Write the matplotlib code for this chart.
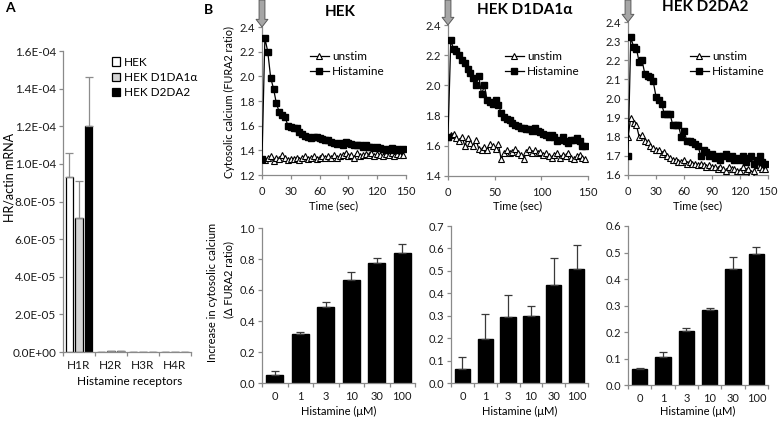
import matplotlib
matplotlib.use("Agg")
import matplotlib.pyplot as plt
from matplotlib.patches import Patch
from matplotlib.ticker import FuncFormatter, FixedLocator
import numpy as np

plt.rcParams['font.family'] = ['Lato', 'DejaVu Sans']
plt.rcParams['font.size'] = 8

# ---------------------------------------------------------------- data
# panel A: receptor mRNA
receptors = ['H1R', 'H2R', 'H3R', 'H4R']
mrna_hek = [9.3e-5, 2e-7, 0, 0]
mrna_d1 = [7.1e-5, 3e-7, 0, 0]
mrna_d2 = [1.2e-4, 6e-7, 0, 0]
mrna_err_hek = [1.3e-5, 0, 0, 0]
mrna_err_d1 = [2.0e-5, 0, 0, 0]
mrna_err_d2 = [2.6e-5, 0, 0, 0]
cell_lines = ['HEK', 'HEK D1DA1\u03b1', 'HEK D2DA2']

# panel B top: calcium traces, sampled every 3 s
time_s = np.arange(0, 150, 3)
hek_unstim = [1.33, 1.32, 1.34, 1.35, 1.31, 1.34, 1.33, 1.36, 1.34, 1.32,
              1.33, 1.33, 1.34, 1.32, 1.34, 1.35, 1.33, 1.34, 1.35, 1.33,
              1.34, 1.35, 1.34, 1.35, 1.34, 1.36, 1.34, 1.35, 1.36, 1.38,
              1.35, 1.36, 1.34, 1.38, 1.35, 1.36, 1.37, 1.36, 1.38, 1.35,
              1.37, 1.36, 1.35, 1.37, 1.36, 1.38, 1.35, 1.37, 1.36, 1.36]
hek_hist = [1.33, 2.31, 2.20, 1.99, 1.90, 1.78, 1.71, 1.69, 1.67, 1.60,
            1.59, 1.58, 1.58, 1.55, 1.53, 1.52, 1.51, 1.50, 1.51, 1.51,
            1.50, 1.49, 1.48, 1.48, 1.47, 1.46, 1.45, 1.46, 1.44, 1.47,
            1.46, 1.45, 1.44, 1.44, 1.44, 1.43, 1.44, 1.43, 1.43, 1.42,
            1.43, 1.42, 1.41, 1.40, 1.41, 1.42, 1.40, 1.41, 1.40, 1.41]
d1_unstim = [1.66, 1.67, 1.68, 1.65, 1.63, 1.66, 1.60, 1.65, 1.62, 1.60,
             1.64, 1.58, 1.57, 1.59, 1.57, 1.61, 1.60, 1.58, 1.61, 1.51,
             1.55, 1.57, 1.55, 1.56, 1.58, 1.55, 1.54, 1.51, 1.56, 1.58,
             1.55, 1.57, 1.55, 1.56, 1.54, 1.55, 1.53, 1.52, 1.54, 1.55,
             1.52, 1.54, 1.53, 1.55, 1.52, 1.51, 1.53, 1.54, 1.52, 1.51]
d1_hist = [1.66, 2.30, 2.24, 2.23, 2.20, 2.17, 2.15, 2.11, 2.08, 2.05,
           2.00, 2.06, 1.94, 2.00, 1.90, 1.89, 1.88, 1.90, 1.87, 1.82,
           1.79, 1.78, 1.77, 1.75, 1.74, 1.73, 1.72, 1.72, 1.71, 1.71,
           1.70, 1.72, 1.70, 1.69, 1.68, 1.67, 1.66, 1.67, 1.66, 1.63,
           1.64, 1.66, 1.63, 1.62, 1.64, 1.64, 1.65, 1.63, 1.60, 1.60]
d2_unstim = [1.80, 1.90, 1.87, 1.86, 1.80, 1.81, 1.78, 1.77, 1.75, 1.74,
             1.73, 1.73, 1.71, 1.72, 1.70, 1.69, 1.68, 1.68, 1.67, 1.67,
             1.68, 1.66, 1.67, 1.66, 1.66, 1.65, 1.66, 1.65, 1.64, 1.65,
             1.64, 1.64, 1.63, 1.64, 1.63, 1.62, 1.64, 1.63, 1.63, 1.62,
             1.62, 1.64, 1.62, 1.63, 1.61, 1.62, 1.65, 1.64, 1.63, 1.63]
d2_hist = [1.70, 2.32, 2.27, 2.26, 2.19, 2.20, 2.13, 2.12, 2.11, 2.09,
           2.01, 1.99, 1.97, 1.92, 1.92, 1.92, 1.86, 1.86, 1.86, 1.80,
           1.83, 1.78, 1.78, 1.77, 1.76, 1.75, 1.70, 1.73, 1.72, 1.70,
           1.71, 1.69, 1.70, 1.68, 1.70, 1.71, 1.69, 1.70, 1.68, 1.69,
           1.68, 1.70, 1.67, 1.69, 1.70, 1.66, 1.68, 1.70, 1.67, 1.66]

# panel B bottom: dose response
concs = ['0', '1', '3', '10', '30', '100']
hek_resp = [0.054, 0.315, 0.492, 0.665, 0.772, 0.841]
hek_resp_err = [0.022, 0.011, 0.031, 0.054, 0.032, 0.059]
d1_resp = [0.062, 0.197, 0.296, 0.299, 0.437, 0.510]
d1_resp_err = [0.052, 0.111, 0.096, 0.046, 0.121, 0.104]
d2_resp = [0.060, 0.107, 0.204, 0.283, 0.436, 0.493]
d2_resp_err = [0.005, 0.016, 0.012, 0.009, 0.048, 0.027]

# ---------------------------------------------------------------- layout
W, H = 778, 423
AX_GRAY = '#8a8a8a'
fig = plt.figure(figsize=(W / 100, H / 100), dpi=100)


def box(left, right, top, bottom):
    """pixel box -> figure fraction rect"""
    return [left / W, 1 - bottom / H, (right - left) / W, (bottom - top) / H]


def style(ax, size=8):
    for s in ('top', 'right'):
        ax.spines[s].set_visible(False)
    for s in ('left', 'bottom'):
        ax.spines[s].set_color(AX_GRAY)
        ax.spines[s].set_linewidth(0.9)
    ax.tick_params(which='both', colors=AX_GRAY, labelcolor='#1a1a1a',
                   length=3, width=0.9, labelsize=size, pad=2)


def category_ticks(ax, labels):
    n = len(labels)
    ax.set_xlim(-0.5, n - 0.5)
    ax.set_xticks(range(n))
    ax.set_xticklabels(labels)
    ax.xaxis.set_minor_locator(FixedLocator(np.arange(-0.5, n, 1.0)))
    ax.tick_params(axis='x', which='major', length=0, pad=6)


# ---------------------------------------------------------------- panel A
axA = fig.add_axes(box(63, 191, 51, 352))
style(axA, size=8.5)
x = np.arange(len(receptors))
bw = 0.24
zeros = np.zeros(len(receptors))
ekw = dict(ecolor='#8c8c8c', elinewidth=0.9, capsize=3, capthick=0.9)
for off, vals, err, fc in ((-0.3, mrna_hek, mrna_err_hek, 'white'),
                           (0.0, mrna_d1, mrna_err_d1, '#d4d4d4'),
                           (0.3, mrna_d2, mrna_err_d2, 'black')):
    axA.bar(x + off, vals, width=bw, color=fc, edgecolor='black', linewidth=0.9,
            yerr=[zeros, err], error_kw=ekw, zorder=2)
category_ticks(axA, receptors)
axA.set_ylim(0, 1.6e-4)
axA.set_yticks(np.arange(0, 1.61e-4, 2e-5))
axA.yaxis.set_major_formatter(FuncFormatter(lambda v, p: f"{v:.1E}"))
fig.text(10 / W, 1 - 177 / H, 'HR/actin mRNA', rotation=90,
         ha='center', va='center', fontsize=9)
fig.text(130 / W, 1 - 381 / H, 'Histamine receptors', ha='center',
         va='center', fontsize=8.5)
handles = [Patch(facecolor=c, edgecolor='black', linewidth=0.9)
           for c in ('white', '#d4d4d4', 'black')]
fig.legend(handles, cell_lines, loc='upper left',
           bbox_to_anchor=(107 / W, 1 - 52 / H), frameon=False,
           fontsize=8.5, handlelength=0.7, handleheight=0.7,
           handletextpad=0.3, labelspacing=0.35, borderaxespad=0)

fig.text(5 / W, 1 - 8 / H, 'A', fontsize=10, fontweight='bold', va='center')
fig.text(204 / W, 1 - 10 / H, 'B', fontsize=10, fontweight='bold', va='center')

# ---------------------------------------------------------------- panel B top
traces = [
    ('HEK', box(262, 406, 27, 175), (1.2, 2.4), np.arange(1.2, 2.41, 0.2),
     [0, 30, 60, 90, 120, 150], hek_unstim, hek_hist, 305, 333),
    ('HEK D1DA1\u03b1', box(448, 588, 25, 176), (1.4, 2.4),
     np.arange(1.4, 2.41, 0.2), [0, 50, 100, 150], d1_unstim, d1_hist, 500, 518),
    ('HEK D2DA2', box(628, 768, 22, 175), (1.6, 2.4),
     np.arange(1.6, 2.41, 0.1), [0, 30, 60, 90, 120, 150], d2_unstim, d2_hist,
     685, 698),
]
for title, rect, ylim, yt, xt, unstim, hist, leg_x, cx in traces:
    ax = fig.add_axes(rect)
    style(ax)
    ax.plot(time_s, unstim, color='black', lw=0.9, marker='^', ms=4.8,
            mfc='white', mec='black', mew=0.8, label='unstim', zorder=3)
    ax.plot(time_s, hist, color='black', lw=0.9, marker='s', ms=4.4,
            mfc='black', mec='black', label='Histamine', zorder=4)
    ax.set_xlim(0, 150)
    ax.set_ylim(*ylim)
    ax.set_xticks(xt)
    ax.set_yticks(yt)
    ax.yaxis.set_major_formatter(FuncFormatter(lambda v, p: f"{v:.1f}"))
    ax.tick_params(axis='x', pad=5)
    ax.set_title(title, fontsize=11, fontweight='bold', pad=8,
                 x=(cx - rect[0] * W) / (rect[2] * W) + 0.05)
    ax.legend(loc='upper left', bbox_to_anchor=(leg_x / W, 1 - 46 / H),
              bbox_transform=fig.transFigure, frameon=False, fontsize=8.5,
              handlelength=1.6, handletextpad=0.3, labelspacing=0.4,
              borderaxespad=0)
    # stimulation arrow
    ax.annotate('', xy=(0, ylim[1]), xycoords='data',
                xytext=(0, 1.0), textcoords=('data', 'figure fraction'),
                arrowprops=dict(arrowstyle='simple,head_length=0.55,'
                                'head_width=0.85,tail_width=0.42',
                                fc='#a6a6a6', ec='#5a5a5a', lw=0.7,
                                mutation_scale=10, shrinkA=0, shrinkB=0),
                annotation_clip=False)
    fig.text((rect[0] + rect[2] / 2), 1 - 206 / H, 'Time (sec)',
             ha='center', va='center', fontsize=8)

fig.text(229 / W, 1 - 102 / H, 'Cytosolic calcium (FURA2 ratio)',
         rotation=90, ha='center', va='center', fontsize=7.8)

# ---------------------------------------------------------------- panel B bottom
doses = [
    (box(262, 415, 228, 383), (0, 1.0), np.arange(0, 1.01, 0.2),
     hek_resp, hek_resp_err),
    (box(451, 588, 226, 383), (0, 0.7), np.arange(0, 0.71, 0.1),
     d1_resp, d1_resp_err),
    (box(628, 768, 226, 385), (0, 0.6), np.arange(0, 0.61, 0.1),
     d2_resp, d2_resp_err),
]
for rect, ylim, yt, resp, err in doses:
    ax = fig.add_axes(rect)
    style(ax)
    xs = np.arange(len(concs))
    ax.bar(xs, resp, width=0.67, color='black', edgecolor='black',
           yerr=[np.zeros(len(resp)), err],
           error_kw=dict(ecolor='#3a3a3a', elinewidth=0.9, capsize=3,
                         capthick=0.9), zorder=2)
    category_ticks(ax, concs)
    ax.set_ylim(*ylim)
    ax.set_yticks(yt)
    ax.yaxis.set_major_formatter(FuncFormatter(lambda v, p: f"{v:.1f}"))
    fig.text((rect[0] + rect[2] / 2), 1 - 411 / H, 'Histamine (\u03bcM)',
             ha='center', va='center', fontsize=8)

fig.text(213 / W, 1 - 292 / H, 'Increase in cytosolic calcium',
         rotation=90, ha='center', va='center', fontsize=8)
fig.text(229 / W, 1 - 280 / H, '(\u0394 FURA2 ratio)',
         rotation=90, ha='center', va='center', fontsize=8)

fig.savefig('out.png', dpi=100)
